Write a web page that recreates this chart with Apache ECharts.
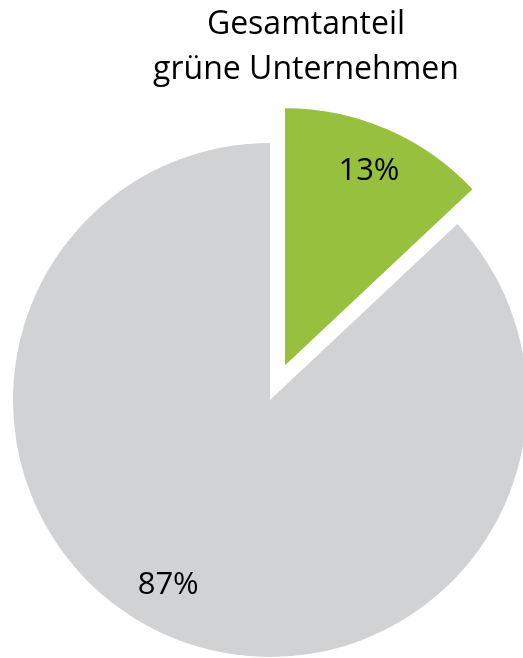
<!DOCTYPE html>
<html>
<head>
<meta charset="utf-8">
<script src="https://cdn.jsdelivr.net/npm/echarts@6/dist/echarts.min.js"></script>
<style>
html, body { margin: 0; padding: 0; background: #fff; }
#anteil { width: 523px; height: 658px; }
</style>
</head>
<body>
<div id="anteil"></div>
<script>
var kategorien = ['grüne Unternehmen', 'andere Unternehmen'];
var anteile = [13, 87];
var farben = ['#96c03d', '#d1d2d4'];

var chart_anteil = echarts.init(document.getElementById('anteil'));

var radius = 257;
var labelRatio = 0.81;
// small turn of the label along the arc, degrees (the big slice's label sits a bit past its bisector)
var labelTurn = [0, 5.5];
var summe = anteile.reduce(function (a, b) { return a + b; }, 0);

// ECharts puts inside labels at half the radius on the bisector,
// move them out to labelRatio of the radius
function labelShift(index) {
    var start = 0;
    for (var i = 0; i < index; i++) start += anteile[i];
    var mitte = (start + anteile[index] / 2) / summe * Math.PI * 2;
    var ziel = mitte + labelTurn[index] * Math.PI / 180;
    var r0 = radius * 0.5, r1 = radius * labelRatio;
    return {
        dx: r1 * Math.sin(ziel) - r0 * Math.sin(mitte),
        dy: -r1 * Math.cos(ziel) + r0 * Math.cos(mitte)
    };
}

var pie_data = [];
for (var i = 0; i < kategorien.length; i++) {
    pie_data.push({
        name: kategorien[i],
        value: anteile[i],
        selected: i === 0,
        itemStyle: { color: farben[i] }
    });
}

chart_anteil.setOption({
    animation: false,
    title: {
        text: 'Gesamtanteil\ngrüne Unternehmen',
        left: 301,
        top: -3,
        textAlign: 'center',
        textStyle: {
            fontFamily: 'Open Sans',
            fontWeight: 'normal',
            fontSize: 32,
            lineHeight: 45,
            color: '#000'
        }
    },
    series: [{
        type: 'pie',
        center: [270, 400],
        radius: [0, radius],
        startAngle: 90,
        clockwise: true,
        selectedMode: 'single',
        selectedOffset: 38,
        silent: true,
        emphasis: { scale: false },
        label: {
            position: 'inside',
            formatter: '{c}%',
            fontFamily: 'Open Sans',
            fontSize: 31,
            color: '#000'
        },
        labelLine: { show: false },
        labelLayout: function (params) {
            return labelShift(params.dataIndex);
        },
        data: pie_data
    }]
});
</script>
</body>
</html>
